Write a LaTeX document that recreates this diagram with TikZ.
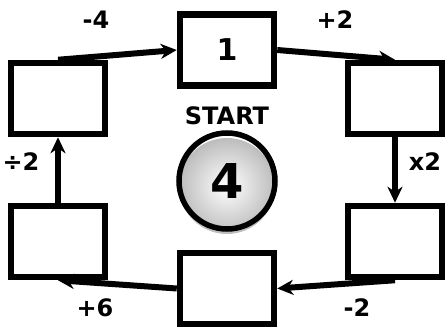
\documentclass[tikz,border=0pt]{standalone}
\usepackage{fontspec}
\setmainfont{DejaVu Sans}
\usetikzlibrary{arrows.meta}
\begin{document}
\begin{tikzpicture}[x=1pt,y=-1pt,
  numbox/.style={draw,line width=6.5pt,minimum width=94pt,minimum height=71pt,inner sep=0pt,font=\bfseries\fontsize{30}{30}\selectfont},
  conn/.style={line width=6pt,-{Stealth[length=16pt,width=15pt,inset=5pt]}},
  lbl/.style={font=\bfseries\fontsize{24}{24}\selectfont}]
\useasboundingbox (0,0) rectangle (447,329);
\node[numbox] (top) at (227,50) {1};
\node[numbox] (lt) at (58,98.5) {};
\node[numbox] (rt) at (395,98.5) {};
\node[numbox] (lb) at (58,241.5) {};
\node[numbox] (rb) at (395,241.5) {};
\node[numbox] (bot) at (227,288.5) {};
\node[font=\bfseries\fontsize{24}{24}\selectfont] (start) at (227,116) {START};
\shade[inner color=white,outer color=gray!52] (227,186) circle (48);
\node[draw,line width=5.5pt,circle,minimum size=96pt,inner sep=0pt,font=\bfseries\fontsize{48}{48}\selectfont] (four) at (227,181) {4};
\draw[conn] (lt.north) -- (top.west);
\draw[conn] (top.east) -- (rt.north);
\draw[conn] (rt.south) -- (rb.north);
\draw[conn] (rb.south) -- (bot.east);
\draw[conn] (bot.west) -- (lb.south);
\draw[conn] (lb.north) -- (lt.south);
\node[lbl] (l1) at (96,20) {-4};
\node[lbl] (l2) at (335,20) {+2};
\node[lbl] (l3) at (425,162) {x2};
\node[lbl] (l4) at (357,308) {-2};
\node[lbl] (l5) at (95,308) {+6};
\node[lbl] (l6) at (21,162) {÷2};
\end{tikzpicture}
\end{document}
